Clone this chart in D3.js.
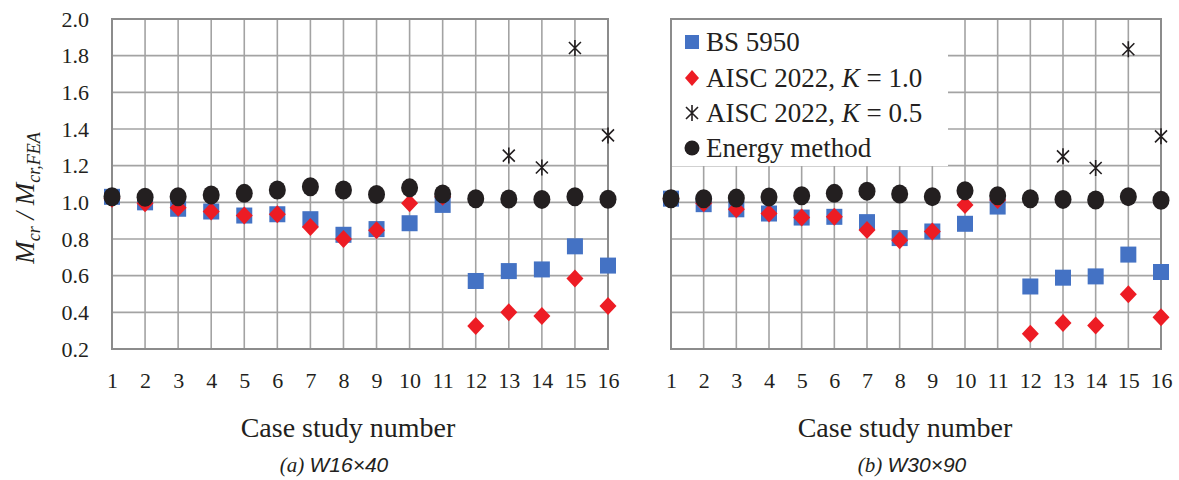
<!DOCTYPE html>
<html>
<head>
<meta charset="utf-8">
<script src="https://cdn.jsdelivr.net/npm/d3@7"></script>
<style>
  body { margin: 0; background: #fff; }
  text { font-family: "Liberation Serif", "Times New Roman", serif; fill: #231f20; }
</style>
</head>
<body>
<svg id="chart" width="1179" height="480"></svg>
<script>
// case numbers and y ticks
const cases = [1, 2, 3, 4, 5, 6, 7, 8, 9, 10, 11, 12, 13, 14, 15, 16];
const yTicks = [0.2, 0.4, 0.6, 0.8, 1.0, 1.2, 1.4, 1.6, 1.8, 2.0];

// (a) W16x40
const bsA      = [1.03, 1.00, 0.965, 0.95, 0.928, 0.935, 0.908, 0.823, 0.854, 0.886, 0.986, 0.571, 0.625, 0.634, 0.76, 0.655];
const aisc10A  = [1.02, 0.995, 0.971, 0.95, 0.928, 0.935, 0.865, 0.80, 0.848, 0.995, 1.03, 0.325, 0.40, 0.38, 0.584, 0.435];
const aisc05A  = [null, null, null, null, null, null, null, null, null, null, null, 1.02, 1.255, 1.19, 1.842, 1.365];
const energyA  = [1.03, 1.028, 1.03, 1.04, 1.049, 1.067, 1.085, 1.067, 1.043, 1.079, 1.045, 1.02, 1.018, 1.016, 1.03, 1.017];

// (b) W30x90
const bsB      = [1.02, 0.99, 0.962, 0.939, 0.917, 0.921, 0.892, 0.805, 0.841, 0.883, 0.977, 0.541, 0.589, 0.596, 0.715, 0.62];
const aisc10B  = [1.02, 0.995, 0.962, 0.939, 0.917, 0.921, 0.849, 0.793, 0.841, 0.986, 1.013, 0.283, 0.342, 0.328, 0.499, 0.373];
const aisc05B  = [null, null, null, null, null, null, null, null, null, null, null, 1.02, 1.251, 1.187, 1.835, 1.36];
const energyB  = [1.02, 1.02, 1.023, 1.029, 1.036, 1.049, 1.061, 1.045, 1.031, 1.063, 1.036, 1.02, 1.016, 1.013, 1.031, 1.011];

const seriesNames = ["BS 5950", "AISC 2022, K = 1.0", "AISC 2022, K = 0.5", "Energy method"];

const blue = "#4472c4", red = "#ed1c24", black = "#231f20", grid = "#a3a3a3";
const svg = d3.select("#chart");

const yScale = d3.scaleLinear().domain([0.2, 2.0]).range([349, 19]);

function marker(g, type, x, y) {
  if (type == "square") {
    g.append("rect").attr("x", x - 8).attr("y", y - 8).attr("width", 16).attr("height", 16).attr("fill", blue);
  } else if (type == "diamond") {
    g.append("path").attr("d", "M0,-9L8.5,0L0,9L-8.5,0Z").attr("transform", "translate(" + x + "," + y + ")").attr("fill", red);
  } else if (type == "star") {
    g.append("path").attr("d", "M-6,-6L6,6M-6,6L6,-6M0,-8L0,8").attr("transform", "translate(" + x + "," + y + ")")
      .attr("stroke", black).attr("stroke-width", 1.6).attr("fill", "none");
  } else {
    g.append("ellipse").attr("cx", x).attr("cy", y).attr("rx", 8.5).attr("ry", 9.5).attr("fill", black);
  }
}

function panel(x0, x1, data, showY, caption, tag, titleX, capX) {
  const xScale = d3.scaleLinear().domain([1, 16]).range([x0, x1]);
  const g = svg.append("g");

  // grid
  g.selectAll(".hg").data(yTicks).enter().append("line")
    .attr("x1", x0).attr("x2", x1).attr("y1", d => yScale(d)).attr("y2", d => yScale(d))
    .attr("stroke", grid).attr("stroke-width", 1.6);
  g.selectAll(".vg").data(cases).enter().append("line")
    .attr("y1", yScale(2.0)).attr("y2", yScale(0.2)).attr("x1", d => xScale(d)).attr("x2", d => xScale(d))
    .attr("stroke", grid).attr("stroke-width", 1.6);
  g.append("rect").attr("x", x0).attr("y", yScale(2.0)).attr("width", x1 - x0).attr("height", yScale(0.2) - yScale(2.0))
    .attr("fill", "none").attr("stroke", "#8c8c8c").attr("stroke-width", 2);

  // x tick labels
  const xAxis = d3.axisBottom(xScale).tickValues(cases).tickSize(0).tickPadding(0).tickFormat(d3.format("d"));
  const xa = g.append("g").attr("transform", "translate(0,388)").call(xAxis);
  xa.select(".domain").remove();
  xa.selectAll("text").attr("font-size", 22).attr("dy", 0).attr("fill", black)
    .style("font-family", "Liberation Serif");

  if (showY) {
    const yAxis = d3.axisLeft(yScale).tickValues(yTicks).tickSize(0).tickPadding(0).tickFormat(d3.format(".1f"));
    const ya = g.append("g").attr("transform", "translate(89,0)").call(yAxis);
    ya.select(".domain").remove();
    ya.selectAll("text").attr("font-size", 22).attr("fill", black).style("font-family", "Liberation Serif");
  }

  // points: series order BS, AISC 1.0, AISC 0.5, Energy
  const types = ["square", "diamond", "star", "circle"];
  data.forEach(function(vals, si) {
    vals.forEach(function(v, i) {
      if (v == null) return;
      marker(g, types[si], xScale(cases[i]), yScale(v));
    });
  });

  g.append("text").attr("x", titleX).attr("y", 437).attr("text-anchor", "middle").attr("font-size", 28)
    .text("Case study number");
  const cap = g.append("text").attr("x", capX).attr("y", 472).attr("text-anchor", "middle").attr("font-size", 21);
  cap.append("tspan").attr("font-style", "italic").text(tag + "  ");
  cap.append("tspan").attr("font-style", "italic").style("font-family", "Liberation Sans, Arial, sans-serif").text(caption);
}

panel(112, 608, [bsA, aisc10A, aisc05A, energyA], true, "W16\u00d740", "(a)", 348, 334);
panel(671, 1161, [bsB, aisc10B, aisc05B, energyB], false, "W30\u00d790", "(b)", 905, 912);

// y axis title
const yt = svg.append("text").attr("transform", "translate(34,198) rotate(-90)").attr("text-anchor", "middle")
  .attr("font-size", 27).attr("font-style", "italic");
yt.append("tspan").text("M");
yt.append("tspan").attr("font-size", 18).attr("dy", 6).text("cr");
yt.append("tspan").attr("dy", -6).text(" / M");
yt.append("tspan").attr("font-size", 18).attr("dy", 6).text("cr,FEA");

// legend
const lg = svg.append("g");
lg.append("rect").attr("x", 672).attr("y", 20).attr("width", 276).attr("height", 146).attr("fill", "#fff");
const legendY = [42, 78, 113, 148];
const legendTypes = ["square", "diamond", "star", "circle"];
seriesNames.forEach(function(name, i) {
  const y = legendY[i];
  if (legendTypes[i] == "square") {
    lg.append("rect").attr("x", 685).attr("y", y - 7).attr("width", 14).attr("height", 14).attr("fill", blue);
  } else if (legendTypes[i] == "circle") {
    lg.append("circle").attr("cx", 692).attr("cy", y).attr("r", 7.5).attr("fill", black);
  } else if (legendTypes[i] == "diamond") {
    lg.append("path").attr("d", "M0,-8L7,0L0,8L-7,0Z").attr("transform", "translate(692," + y + ")").attr("fill", red);
  } else {
    marker(lg, legendTypes[i], 692, y);
  }
  const t = lg.append("text").attr("x", 706).attr("y", y).attr("dy", "0.35em").attr("font-size", 27);
  const parts = name.split("K");
  t.append("tspan").text(parts[0]);
  if (parts.length > 1) {
    t.append("tspan").attr("font-style", "italic").text("K");
    t.append("tspan").text(parts[1]);
  }
});
</script>
</body>
</html>
